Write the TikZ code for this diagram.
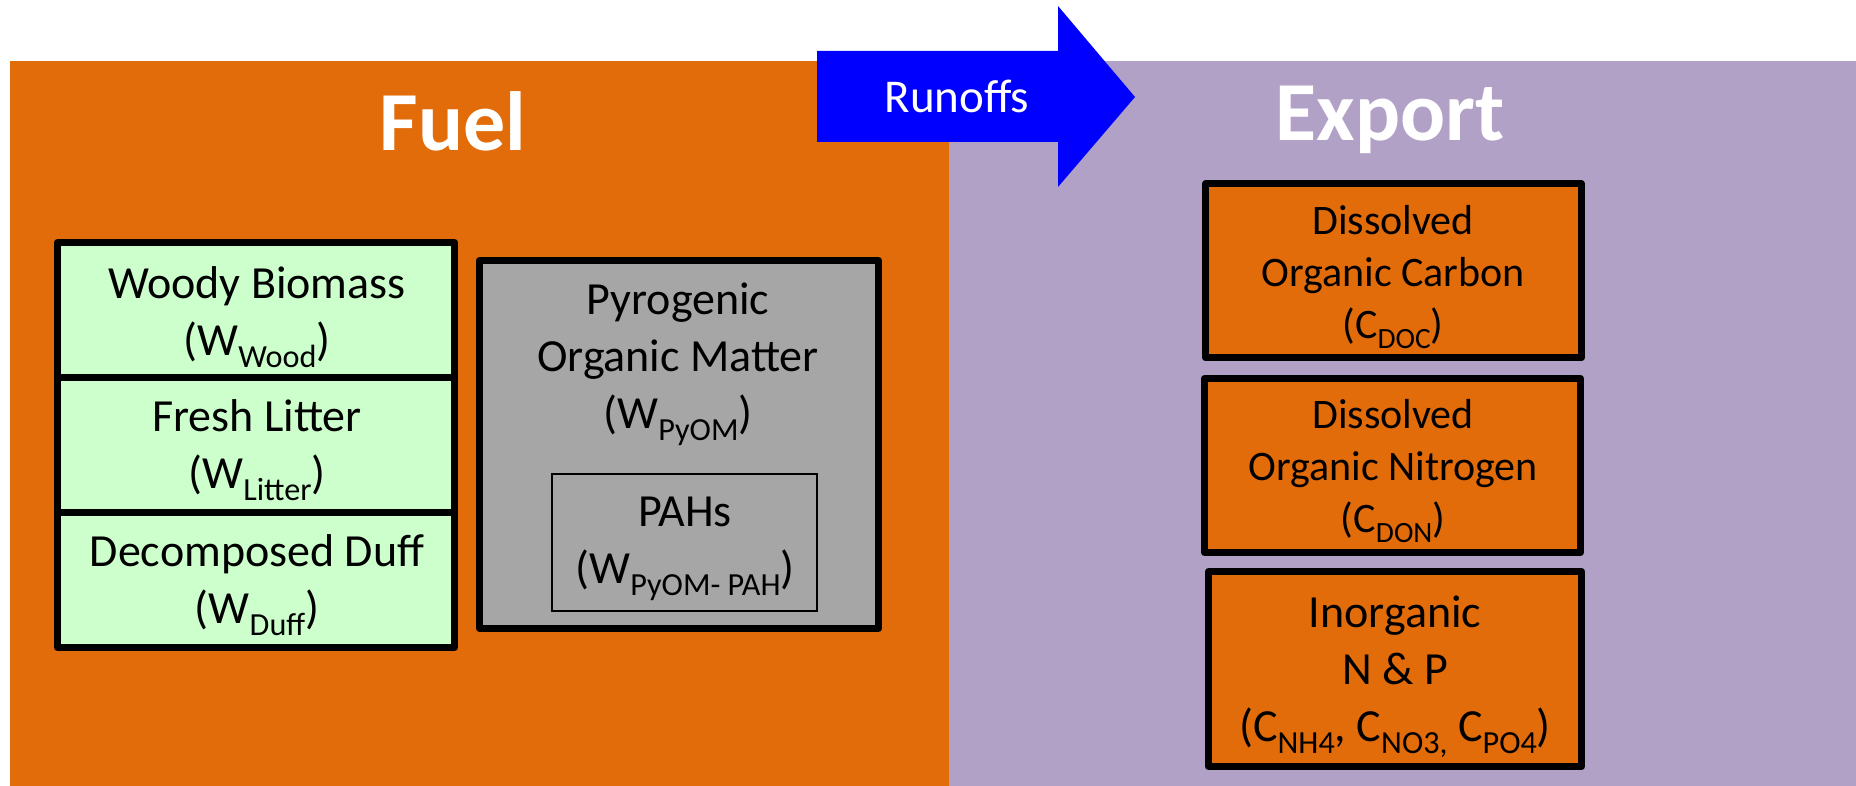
\documentclass[tikz,border=0pt]{standalone}
\usepackage{graphicx}
\usepackage{fontspec}
\setmainfont{Carlito}
\usetikzlibrary{positioning}
\definecolor{fuelorange}{HTML}{E36C0A}
\definecolor{exportpurple}{HTML}{B2A1C7}
\definecolor{litegreen}{HTML}{CCFFCC}
\definecolor{pyomgray}{HTML}{A6A6A6}
\newcommand{\subx}[1]{\raisebox{-0.26em}{\scalebox{0.7}{#1}}}

\begin{document}
\begin{tikzpicture}[x=1pt,y=-1pt,
                    stock node/.style={draw=black,line width=7pt,line join=round,outer sep=0pt,inner sep=0pt},
                    fuel node/.style={stock node,fill=litegreen,minimum width=397pt,minimum height=135pt},
                    export node/.style={stock node,fill=fuelorange,minimum width=376pt,minimum height=174pt},
                    box text/.style={align=center,inner sep=0pt,font=\fontsize{46}{57}\selectfont},
                    small text/.style={box text,font=\fontsize{42}{52}\selectfont},
                    title/.style={text=white,inner sep=0pt,anchor=base,font=\fontsize{84}{100}\selectfont\bfseries}
                   ]
   \useasboundingbox (0,0) rectangle (1856,786);
   \fill[fuelorange] (10,61) rectangle (949,786);
   \fill[exportpurple] (949,61) rectangle (1856,786);
   % runoff arrow
   \fill[blue] (817,51) -- (1058,51) -- (1058,6) -- (1135,97) -- (1058,187) -- (1058,142) -- (817,142) -- cycle;
   \node[text=white,inner sep=0pt,anchor=base,font=\fontsize{47}{56}\selectfont] (runoffs) at (957,113) {Runoffs};

   \node[title] (fuel) at (453,151) {Fuel};
   \node[title] (export) at (1390,141) {Export};

   % fuel pools
   \node[fuel node] (wood) at (256,310) {};
   \node[fuel node,below=0pt of wood] (litter) {};
   \node[fuel node,below=0pt of litter] (duff) {};
   \node[box text] (woodtxt) at (257,317) {Woody Biomass\\(W\subx{Wood})};
   \node[box text] (littertxt) at (257,450) {Fresh Litter\\(W\subx{Litter})};
   \node[box text] (dufftxt) at (257,585) {Decomposed Duff\\(W\subx{Duff})};

   \node[stock node,fill=pyomgray,minimum width=399pt,minimum height=368pt] (pyom) at (679,444.5) {};
   \node[draw=black,line width=2.5pt,inner sep=0pt,minimum width=265pt,minimum height=137pt] (pah) at (684.5,542.5) {};
   \node[box text] (pyomtxt) at (678,364) {Pyrogenic\\Organic Matter\\(W\subx{PyOM})};
   \node[box text] (pahtxt) at (685,549) {PAHs\\(W\subx{PyOM- PAH})};

   % export pools
   \node[export node] (doc) at (1393.5,271) {};
   \node[export node] (don) at (1392.5,465.5) {};
   \node[export node,minimum width=373pt,minimum height=195pt] (inorg) at (1395,669) {};
   \node[small text] (doctxt) at (1393,277) {Dissolved\\Organic Carbon\\(C\subx{DOC})};
   \node[small text] (dontxt) at (1393,471) {Dissolved\\Organic Nitrogen\\(C\subx{DON})};
   \node[box text] (inorgtxt) at (1395,677) {Inorganic\\N \& P\\(C\subx{NH4}, C\subx{NO3,} C\subx{PO4})};
\end{tikzpicture}
\end{document}
